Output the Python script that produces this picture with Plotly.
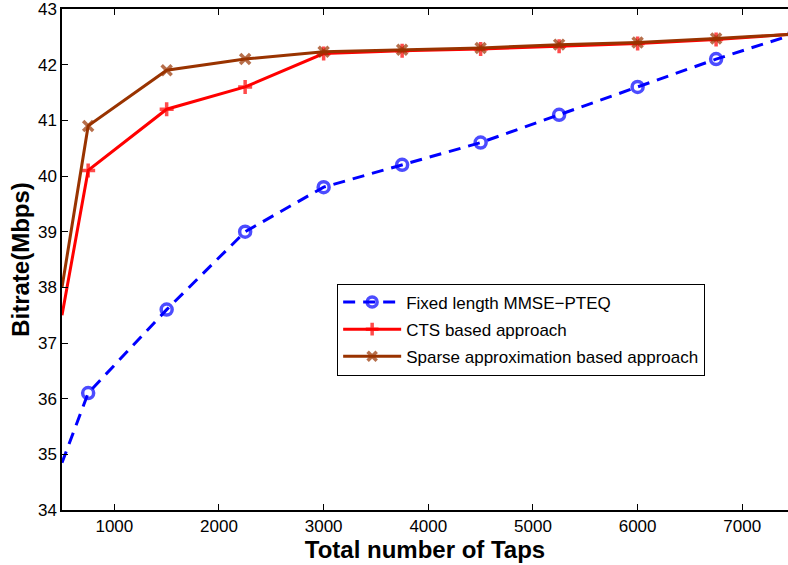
import plotly.graph_objects as go

taps = [500, 750, 1500, 2250, 3000, 3750, 4500, 5250, 6000, 6750, 7500]
fixed_mmse = [34.85, 36.1, 37.6, 39.0, 39.8, 40.2, 40.6, 41.1, 41.6, 42.1, 42.55]
cts = [37.5, 40.1, 41.2, 41.6, 42.2, 42.25, 42.28, 42.33, 42.38, 42.45, 42.55]
sparse = [38.0, 40.9, 41.9, 42.1, 42.23, 42.27, 42.3, 42.36, 42.4, 42.47, 42.55]
names = ["Fixed length MMSE\u2212PTEQ", "CTS based approach", "Sparse approximation based approach"]
xticks = [1000, 2000, 3000, 4000, 5000, 6000, 7000]
yticks = [34, 35, 36, 37, 38, 39, 40, 41, 42, 43]

FONT = "Liberation Sans, Arial, sans-serif"
msize = [0] + [10] * (len(taps) - 1)

fig = go.Figure()
fig.add_trace(go.Scatter(
    x=taps, y=fixed_mmse, name=names[0], mode="lines+markers", legendgroup="a",
    line=dict(color="#0000FF", width=3, dash="12px,8px"),
    marker=dict(symbol="circle-open", size=[0] + [11] * (len(taps) - 1), color="#0000FF",
                line=dict(width=3.5, color="#0000FF")),
))
fig.add_trace(go.Scatter(
    x=taps, y=cts, name=names[1], mode="lines+markers", legendgroup="b",
    line=dict(color="#FF0000", width=3),
    marker=dict(symbol="cross-thin", size=msize, color="#FF0000",
                line=dict(width=3.5, color="#FF0000")),
))
fig.add_trace(go.Scatter(
    x=taps, y=sparse, name=names[2], mode="lines+markers", legendgroup="c",
    line=dict(color="rgb(153,51,0)", width=3),
    marker=dict(symbol="x-thin", size=msize, color="rgb(153,51,0)",
                line=dict(width=3.5, color="rgb(153,51,0)")),
))

fig.update_layout(
    width=788, height=565,
    margin=dict(l=62, r=0, t=7, b=55),
    paper_bgcolor="white", plot_bgcolor="white",
    font=dict(family=FONT, size=17, color="black"),
    legend=dict(
        x=0.379, y=0.452, xanchor="left", yanchor="top",
        bordercolor="black", borderwidth=1, bgcolor="white",
        font=dict(family=FONT, size=17, color="black"),
        itemwidth=58, tracegroupgap=2,
    ),
    showlegend=True,
)
fig.update_xaxes(
    range=[500, 7437], tickvals=xticks, ticktext=[str(v) for v in xticks],
    ticks="inside", ticklen=6, tickcolor="black", showline=True, linecolor="black",
    linewidth=1.5, mirror="ticks", showgrid=False, zeroline=False,
    tickfont=dict(family=FONT, size=17, color="black"),
    title=dict(text="<b>Total number of Taps</b>", font=dict(family=FONT, size=24, color="black"), standoff=2),
)
fig.update_yaxes(
    range=[34, 43], tickvals=yticks, ticktext=[str(v) for v in yticks],
    ticks="inside", ticklen=6, tickcolor="black", showline=True, linecolor="black",
    linewidth=1.5, mirror=False, showgrid=False, zeroline=False, ticklabeloverflow="allow",
    tickfont=dict(family=FONT, size=17, color="black"),
    title=dict(text="<b>Bitrate(Mbps)</b>", font=dict(family=FONT, size=24, color="black"), standoff=2),
)

fig.write_html("out.html")
